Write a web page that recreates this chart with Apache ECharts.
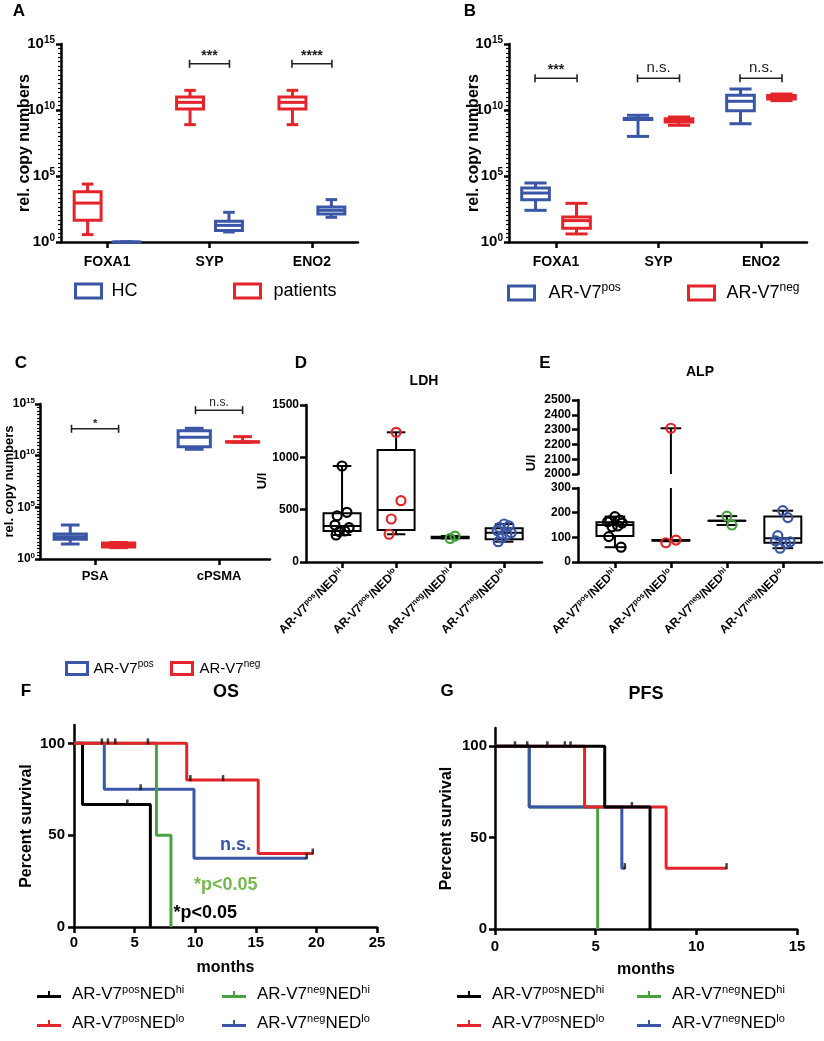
<!DOCTYPE html>
<html>
<head>
<meta charset="utf-8">
<script src="https://cdn.jsdelivr.net/npm/echarts@6.0.0/dist/echarts.min.js"></script>
<style>
html,body{margin:0;padding:0;background:#fff;}
#chart{width:824px;height:1041px;}
</style>
</head>
<body>
<div id="chart"></div>
<script>
// ================= DATA =================
// Panels A-C: log10(rel. copy numbers); box stats = [min, q1, median, q3, max]
const A_genes = ['FOXA1', 'SYP', 'ENO2'];
const A_HC = [[0, 0, 0, 0, 0], [0.76, 0.88, 1.26, 1.57, 2.25], [1.87, 2.12, 2.40, 2.65, 3.21]];
const A_patients = [[0.56, 1.64, 2.95, 3.81, 4.39], [8.89, 10.08, 10.58, 10.98, 11.49], [8.89, 10.08, 10.58, 10.98, 11.49]];
const A_sigCats = [1, 2];
const A_sigLog = [13.5, 13.5];
const A_sigText = ['***', '****'];

const B_genes = ['FOXA1', 'SYP', 'ENO2'];
const B_pos = [[2.40, 3.21, 3.71, 4.09, 4.47], [8.0, 9.28, 9.32, 9.36, 9.60], [8.96, 9.95, 10.66, 11.11, 11.59]];
const B_neg = [[0.61, 1.04, 1.62, 1.89, 2.93], [8.84, 9.09, 9.22, 9.34, 9.47], [10.71, 10.83, 10.98, 11.09, 11.21]];
const B_sigCats = [0, 1, 2];
const B_sigLog = [12.4, 12.4, 12.4];
const B_sigText = ['***', 'n.s.', 'n.s.'];

const C_markers = ['PSA', 'cPSMA'];
const C_pos = [[1.45, 1.90, 2.16, 2.42, 3.29], [10.62, 10.87, 11.78, 12.42, 12.65]];
const C_neg = [[1.10, 1.15, 1.32, 1.55, 1.60], [11.30, 11.32, 11.33, 11.34, 11.84]];
const C_sigCats = [0, 1];
const C_sigLog = [12.6, 14.4];
const C_sigText = ['*', 'n.s.'];

// Panels D, E: groups AR-V7(pos/neg) / NED(hi/lo)
const DE_groups = [['pos', 'hi'], ['pos', 'lo'], ['neg', 'hi'], ['neg', 'lo']];
// LDH (U/l)
const LDH_ticks = [0, 500, 1000, 1500];
const LDH_box = [[258, 296, 344, 465, 917], [265, 306, 497, 1070, 1239], [225, 228, 235, 242, 248], [194, 217, 280, 322, 363]];
const LDH_points = [[917, 475, 442, 353, 328, 296, 290, 258], [1239, 586, 411, 265], [225, 248], [363, 345, 330, 300, 280, 262, 230, 194]];
// ALP (U/l), broken axis
const ALP_ticksLow = [0, 100, 200, 300];
const ALP_ticksHigh = [2000, 2100, 2200, 2300, 2400, 2500];
const ALP_box = [[60, 105, 150, 161, 184], [84, 86, 88, 89, 2309], [150, 167, 167, 167, 186], [56, 78, 96, 184, 208]];
const ALP_points = [[184, 170, 167, 163, 158, 146, 143, 103, 60], [2309, 89, 78], [186, 150], [208, 180, 107, 86, 82, 76, 56]];

// Panels F, G: Kaplan-Meier steps [months, percent survival] and censored observations
const KM_yTicks = [0, 50, 100];
const OS_posHi = [[0, 100], [0.7, 66.7], [6.3, 0]];
const OS_posLo = [[0, 100], [9.3, 80], [15.2, 40], [19.7, 40]];
const OS_negHi = [[0, 100], [6.8, 50], [8.0, 0]];
const OS_negLo = [[0, 100], [2.5, 75], [9.9, 37.5], [19.2, 37.5]];
const OS_posHi_cens = [[4.4, 66.7]];
const OS_posLo_cens = [[2.3, 100], [2.8, 100], [3.4, 100], [6.1, 100], [9.6, 80], [12.3, 80], [19.7, 40]];
const OS_negLo_cens = [[5.5, 75], [19.2, 37.5]];
const OS_pText = ['n.s.', '*p<0.05', '*p<0.05'];
const OS_pPos = [[12.05, 44.6], [9.9, 22.8], [8.2, 7.6]];

const PFS_posHi = [[0, 100], [5.45, 66.7], [7.7, 0]];
const PFS_posLo = [[0, 100], [4.45, 66.7], [8.5, 33.3], [11.5, 33.3]];
const PFS_negHi = [[0, 100], [1.7, 66.7], [5.1, 0]];
const PFS_negLo = [[0, 100], [1.7, 66.7], [6.3, 33.3], [6.45, 33.3]];
const PFS_posHi_cens = [[0.99, 100], [1.6, 100], [2.6, 100], [3.47, 100], [3.75, 100], [6.8, 66.7]];
const PFS_posLo_cens = [[11.5, 33.3]];
const PFS_negLo_cens = [[6.45, 33.3]];

const KM_names = ['AR-V7posNEDhi', 'AR-V7posNEDlo', 'AR-V7negNEDhi', 'AR-V7negNEDlo'];

// ================= STYLE =================
const FONT = '"Liberation Sans", Arial, Helvetica, sans-serif';
const BLUE = '#3a56a6', RED = '#e3252b', GREEN = '#48a23f', GREEN_T = '#74ba4e', BLACK = '#000';
const DE_colors = [BLACK, RED, GREEN, BLUE];

function richSet(fs, sfs, weight, lh) {
  return {
    n: {fontSize: fs, fontWeight: weight, fontFamily: FONT, color: '#000', lineHeight: lh || fs + 4},
    s: {fontSize: sfs, fontWeight: weight, fontFamily: FONT, color: '#000', lineHeight: Math.round(sfs * 0.9), verticalAlign: 'top'}
  };
}
const LEG_FMT = {
  'HC': '{n|HC}', 'patients': '{n|patients}',
  'AR-V7pos': '{n|AR-V7}{s|pos}', 'AR-V7neg': '{n|AR-V7}{s|neg}',
  'AR-V7posNEDhi': '{n|AR-V7}{s|pos}{n|NED}{s|hi}', 'AR-V7posNEDlo': '{n|AR-V7}{s|pos}{n|NED}{s|lo}',
  'AR-V7negNEDhi': '{n|AR-V7}{s|neg}{n|NED}{s|hi}', 'AR-V7negNEDlo': '{n|AR-V7}{s|neg}{n|NED}{s|lo}'
};
const groupLabel = g => '{n|AR-V7}{s|' + g[0] + '}{n|/NED}{s|' + g[1] + '}';

function axLine(w) { return {show: true, onZero: false, lineStyle: {color: '#000', width: w || 2.5}}; }
const NAME_STYLE = fs => ({fontSize: fs, fontWeight: 'bold', fontFamily: FONT, color: '#000'});

function catX(grid, min, max, names, fs, margin, rotate, rich) {
  const vals = names.map((_, i) => i);
  return {
    gridIndex: grid, type: 'value', min: min, max: max,
    axisLine: axLine(2.5),
    axisTick: {show: true, length: 6, customValues: vals, lineStyle: {color: '#000', width: 2.5}},
    axisLabel: {show: true, customValues: vals, margin: margin, rotate: rotate || 0, color: '#000',
      fontFamily: FONT, fontSize: fs, fontWeight: 'bold',
      formatter: v => names[Math.round(v)], rich: rich},
    splitLine: {show: false}
  };
}
function logY(grid, fs, sfs, margin, name, nameFs, nameGap) {
  return {
    gridIndex: grid, type: 'value', min: 0, max: 15, interval: 5,
    axisLine: axLine(2.5),
    axisTick: {show: true, length: 5, lineStyle: {color: '#000', width: 2.5}},
    minorTick: {show: true, splitNumber: 15, length: 3, lineStyle: {color: '#000', width: 1.2}},
    splitLine: {show: false}, minorSplitLine: {show: false},
    axisLabel: {margin: margin, formatter: v => '{n|10}{s|' + v + '}', rich: richSet(fs, sfs, 'bold', fs + 3)},
    name: name, nameLocation: 'middle', nameGap: nameGap, nameMoveOverlap: false,
    nameTextStyle: NAME_STYLE(nameFs)
  };
}
function linY(grid, min, max, ticks, fs, margin, extra) {
  return Object.assign({
    gridIndex: grid, type: 'value', min: min, max: max,
    axisLine: axLine(2.5),
    axisTick: {show: true, length: 6, customValues: ticks, lineStyle: {color: '#000', width: 2.5}},
    axisLabel: {margin: margin, customValues: ticks, color: '#000', fontFamily: FONT, fontSize: fs, fontWeight: 'bold',
      formatter: v => String(v)},
    splitLine: {show: false}
  }, extra || {});
}

// ---- box renderer (clips to its grid) ----
function boxRender(color, boxW, lineW, capFrac) {
  return function (params, api) {
    const cs = params.coordSys;
    const top = cs.y, bot = cs.y + cs.height;
    const x = api.value(0);
    const v = [1, 2, 3, 4, 5].map(i => api.value(i));
    const px = api.coord([x, v[0]])[0];
    const w = api.size([boxW, 0])[0];
    const cw = w * capFrac;
    const Y = val => api.coord([x, val])[1];
    const yMin = Y(v[0]), yQ1 = Y(v[1]), yMed = Y(v[2]), yQ3 = Y(v[3]), yMax = Y(v[4]);
    const cl = y => Math.max(top, Math.min(bot, y));
    const inR = y => y >= top - 1 && y <= bot + 1;
    const st = {stroke: color, lineWidth: lineW, fill: null};
    const ch = [];
    const seg = (x1, y1, x2, y2) => ch.push({type: 'line', shape: {x1: x1, y1: y1, x2: x2, y2: y2}, style: st});
    let a = cl(yQ3), b = cl(yMax);
    if (Math.abs(a - b) > 0.5) seg(px, a, px, b);
    a = cl(yQ1); b = cl(yMin);
    if (Math.abs(a - b) > 0.5) seg(px, a, px, b);
    if (inR(yMax)) seg(px - cw / 2, yMax, px + cw / 2, yMax);
    if (inR(yMin)) seg(px - cw / 2, yMin, px + cw / 2, yMin);
    if (yQ1 >= top - 1 && yQ3 <= bot + 1) {
      const t = cl(yQ3), bb = cl(yQ1);
      ch.push({type: 'rect', shape: {x: px - w / 2, y: t, width: w, height: Math.max(bb - t, 0.01)}, style: st});
    }
    if (inR(yMed)) seg(px - w / 2, yMed, px + w / 2, yMed);
    return {type: 'group', children: ch};
  };
}
function boxSeries(name, grid, stats, offset, color, boxW, lineW, capFrac) {
  return {
    type: 'custom', name: name, xAxisIndex: grid, yAxisIndex: grid, z: 3,
    itemStyle: {color: color},
    renderItem: boxRender(color, boxW, lineW, capFrac),
    encode: {x: 0, y: [1, 2, 3, 4, 5]},
    data: stats.map((d, i) => [i + offset].concat(d)),
    silent: true
  };
}
// ---- significance bracket ----
function bracketSeries(grid, cats, logs, texts, half, starFs, nsFs, gap) {
  return {
    type: 'custom', xAxisIndex: grid, yAxisIndex: grid, z: 4, silent: true,
    renderItem: function (params, api) {
      const c = api.value(0), yv = api.value(1);
      const p1 = api.coord([c - half, yv]), p2 = api.coord([c + half, yv]);
      const y = p1[1];
      const st = {stroke: '#222', lineWidth: 1.6};
      const t = texts[params.dataIndex];
      const star = t.indexOf('*') >= 0;
      return {type: 'group', children: [
        {type: 'line', shape: {x1: p1[0], y1: y, x2: p2[0], y2: y}, style: st},
        {type: 'line', shape: {x1: p1[0], y1: y - 4, x2: p1[0], y2: y + 4}, style: st},
        {type: 'line', shape: {x1: p2[0], y1: y - 4, x2: p2[0], y2: y + 4}, style: st},
        {type: 'text', x: (p1[0] + p2[0]) / 2, y: y - (star ? gap[0] : gap[1]),
          style: {text: t, fontSize: star ? starFs : nsFs, fontWeight: star ? 'bold' : 'normal',
            fontFamily: FONT, fill: '#222', align: 'center', verticalAlign: 'bottom'}}
      ]};
    },
    data: cats.map((c, i) => [c, logs[i]])
  };
}
// ---- dot points for D/E ----
const JIT = [0, 0.09, -0.09, -0.13, 0.13, 0.05, -0.05, -0.11, 0.11];
function dotSeries(grid, pts) {
  const data = [];
  pts.forEach((g, gi) => g.forEach((v, k) => data.push({
    value: [gi + JIT[k % JIT.length], v],
    itemStyle: {borderColor: DE_colors[gi]}
  })));
  return {type: 'scatter', xAxisIndex: grid, yAxisIndex: grid, z: 5, silent: true,
    symbol: 'circle', symbolSize: 9, clip: true,
    itemStyle: {color: 'rgba(255,255,255,0)', borderWidth: 2.2, opacity: 1},
    data: data};
}
// ---- KM ----
function kmLine(name, grid, data, color) {
  return {type: 'line', name: name, xAxisIndex: grid, yAxisIndex: grid, step: 'end', symbol: 'none',
    lineStyle: {color: color, width: 3}, itemStyle: {color: color}, data: data, silent: true, animation: false};
}
function censSeries(grid, data) {
  return {type: 'scatter', xAxisIndex: grid, yAxisIndex: grid, z: 6, silent: true,
    symbol: 'rect', symbolSize: [2.5, 6], symbolOffset: [0, -2], itemStyle: {color: '#111'}, data: data};
}

// ---- legends ----
function boxLegend(name, left, top, color, fs, iw, ih, pad) {
  return {left: left, top: top, padding: 0, itemWidth: iw, itemHeight: ih, selectedMode: false,
    data: [{name: name, icon: 'rect', itemStyle: {color: '#fff', borderColor: color, borderWidth: 3}}],
    formatter: n => LEG_FMT[n],
    textStyle: {color: '#000', fontFamily: FONT, fontSize: fs, padding: [0, 0, 0, pad], rich: richSet(fs, Math.round(fs * 0.68), 'normal')}};
}
const KM_ICON = 'path://M0,4H24V7H0Z M11,0H13V4H11Z';
function kmLegend(name, left, top, color) {
  return {left: left, top: top, padding: 0, itemWidth: 24, itemHeight: 7, selectedMode: false,
    data: [{name: name, icon: KM_ICON, itemStyle: {color: color}}],
    formatter: n => LEG_FMT[n],
    textStyle: {color: '#000', fontFamily: FONT, fontSize: 17, padding: [0, 0, 0, 6], rich: richSet(17, 11, 'normal')}};
}

// ================= OPTION =================
const grids = [
  {left: 61, top: 44, width: 297, height: 198},    // 0 A
  {left: 509, top: 44, width: 298, height: 198},   // 1 B
  {left: 40, top: 404, width: 230, height: 155},   // 2 C
  {left: 306, top: 405, width: 236, height: 157},  // 3 D
  {left: 578, top: 488, width: 244, height: 74},   // 4 E lower
  {left: 578, top: 400, width: 244, height: 74},   // 5 E upper
  {left: 74, top: 725, width: 303, height: 202},   // 6 F
  {left: 495, top: 728, width: 302, height: 201}   // 7 G
].map(g => Object.assign({outerBoundsMode: 'none', containLabel: false}, g));

const deNames = DE_groups.map(groupLabel);
const deRich = richSet(12, 8, 'bold', 14);

function kmX(grid, max, margin) {
  return {gridIndex: grid, type: 'value', min: 0, max: max, interval: 5, axisLine: axLine(2.5),
    axisTick: {show: true, length: 6, lineStyle: {color: '#000', width: 2.5}},
    axisLabel: {margin: margin, color: '#000', fontFamily: FONT, fontSize: 15, fontWeight: 'bold'},
    splitLine: {show: false}, name: 'months', nameLocation: 'middle', nameGap: 33, nameMoveOverlap: false,
    nameTextStyle: NAME_STYLE(16)};
}
const xAxes = [
  catX(0, -0.45, 2.45, A_genes, 14, 13),
  catX(1, -0.459, 2.449, B_genes, 14, 13),
  catX(2, -0.444, 1.411, C_markers, 13, 11),
  catX(3, -0.667, 3.70, deNames, 12, 9, 45, deRich),
  catX(4, -0.66, 3.70, deNames, 12, 9, 45, deRich),
  {gridIndex: 5, type: 'value', min: -0.66, max: 3.70, show: false},
  kmX(6, 25, 8),
  kmX(7, 15, 10)
];
const kmYName = gap => ({name: 'Percent survival', nameLocation: 'middle', nameGap: gap, nameMoveOverlap: false,
  nameTextStyle: NAME_STYLE(16)});
const yAxes = [
  logY(0, 15, 10, 6, 'rel. copy numbers', 16, 28),
  logY(1, 15, 10, 6, 'rel. copy numbers', 16, 27),
  logY(2, 12, 8, 5, 'rel. copy numbers', 13, 24),
  linY(3, 0, 1500, LDH_ticks, 12, 7),
  linY(4, 0, 300, ALP_ticksLow, 12, 7),
  linY(5, 2000, 2500, ALP_ticksHigh, 12, 7),
  linY(6, 0, 110, KM_yTicks, 15, 9, kmYName(39)),
  linY(7, 0, 110, KM_yTicks, 15, 8, kmYName(40))
];

const series = [
  // A
  boxSeries('patients', 0, A_patients, -0.19, RED, 0.263, 3, 0.43),
  boxSeries('HC', 0, A_HC, 0.19, BLUE, 0.263, 3, 0.43),
  bracketSeries(0, A_sigCats, A_sigLog, A_sigText, 0.195, 14, 15, [1, 3]),
  // B
  boxSeries('AR-V7pos', 1, B_pos, -0.2, BLUE, 0.27, 3, 0.8),
  boxSeries('AR-V7neg', 1, B_neg, 0.2, RED, 0.27, 3, 0.8),
  bracketSeries(1, B_sigCats, B_sigLog, B_sigText, 0.205, 14, 15, [1, 3]),
  // C
  boxSeries('AR-V7pos', 2, C_pos, -0.2, BLUE, 0.26, 3, 0.58),
  boxSeries('AR-V7neg', 2, C_neg, 0.19, RED, 0.26, 3, 0.58),
  bracketSeries(2, C_sigCats, C_sigLog, C_sigText, 0.19, 11, 12, [-1, 2]),
  // D
  boxSeries('LDH', 3, LDH_box, 0, BLACK, 0.685, 2, 0.5),
  dotSeries(3, LDH_points),
  // E
  boxSeries('ALP', 4, ALP_box, 0, BLACK, 0.66, 2, 0.56),
  boxSeries('ALP', 5, ALP_box, 0, BLACK, 0.66, 2, 0.56),
  dotSeries(4, ALP_points),
  dotSeries(5, ALP_points),
  // F (draw order: black, blue, green, red)
  kmLine(KM_names[0], 6, OS_posHi, BLACK),
  kmLine(KM_names[3], 6, OS_negLo, BLUE),
  kmLine(KM_names[2], 6, OS_negHi, GREEN),
  kmLine(KM_names[1], 6, OS_posLo, RED),
  censSeries(6, OS_posHi_cens.concat(OS_posLo_cens, OS_negLo_cens)),
  {type: 'custom', xAxisIndex: 6, yAxisIndex: 6, z: 7, silent: true,
    renderItem: function (params, api) {
      const p = api.coord([api.value(0), api.value(1)]);
      const cols = [BLUE, GREEN_T, BLACK];
      return {type: 'text', x: p[0], y: p[1], style: {text: OS_pText[params.dataIndex], fill: cols[params.dataIndex],
        fontSize: 18, fontWeight: 'bold', fontFamily: FONT, align: 'left', verticalAlign: 'middle'}};
    },
    data: OS_pPos},
  // G (draw order: green, blue, red, black)
  kmLine(KM_names[2], 7, PFS_negHi, GREEN),
  kmLine(KM_names[3], 7, PFS_negLo, BLUE),
  kmLine(KM_names[1], 7, PFS_posLo, RED),
  kmLine(KM_names[0], 7, PFS_posHi, BLACK),
  censSeries(7, PFS_posHi_cens.concat(PFS_posLo_cens, PFS_negLo_cens))
];

const legends = [
  boxLegend('HC', 74, 282, BLUE, 18, 26, 14, 5),
  boxLegend('patients', 233, 282, RED, 18, 26, 14, 8),
  boxLegend('AR-V7pos', 507, 282, BLUE, 18, 26, 14, 9),
  boxLegend('AR-V7neg', 687, 282, RED, 18, 26, 14, 7),
  boxLegend('AR-V7pos', 65, 659, BLUE, 15, 21, 12, 1),
  boxLegend('AR-V7neg', 170, 659, RED, 15, 21, 12, 2),
  kmLegend(KM_names[0], 37, 984, BLACK),
  kmLegend(KM_names[2], 222, 984, GREEN),
  kmLegend(KM_names[1], 37, 1013, RED),
  kmLegend(KM_names[3], 222, 1013, BLUE),
  kmLegend(KM_names[0], 457, 984, BLACK),
  kmLegend(KM_names[2], 637, 984, GREEN),
  kmLegend(KM_names[1], 457, 1013, RED),
  kmLegend(KM_names[3], 637, 1013, BLUE)
];

function gtext(text, x, y, fs, weight, rot) {
  return {type: 'text', x: x, y: y, rotation: rot || 0, silent: true,
    style: {text: text, fontSize: fs, fontWeight: weight || 'bold', fontFamily: FONT, fill: '#000', align: 'center', verticalAlign: 'middle'}};
}
const graphics = [
  gtext('A', 19, 11, 17), gtext('B', 470, 11, 17), gtext('C', 21, 363, 17), gtext('D', 301, 363, 17),
  gtext('E', 545, 363, 17), gtext('F', 26, 691, 17), gtext('G', 447, 691, 17),
  gtext('LDH', 424, 381, 14), gtext('ALP', 700, 372, 14), gtext('OS', 226, 692, 18), gtext('PFS', 646, 694, 18),
  gtext('U/l', 262, 481, 13, 'bold', Math.PI / 2), gtext('U/l', 531, 463, 13, 'bold', Math.PI / 2)
];

const chart = echarts.init(document.getElementById('chart'), null, {renderer: 'canvas'});
chart.setOption({
  animation: false,
  backgroundColor: '#fff',
  textStyle: {fontFamily: FONT},
  grid: grids, xAxis: xAxes, yAxis: yAxes,
  legend: legends, series: series,
  graphic: {elements: graphics}
});
</script>
</body>
</html>
